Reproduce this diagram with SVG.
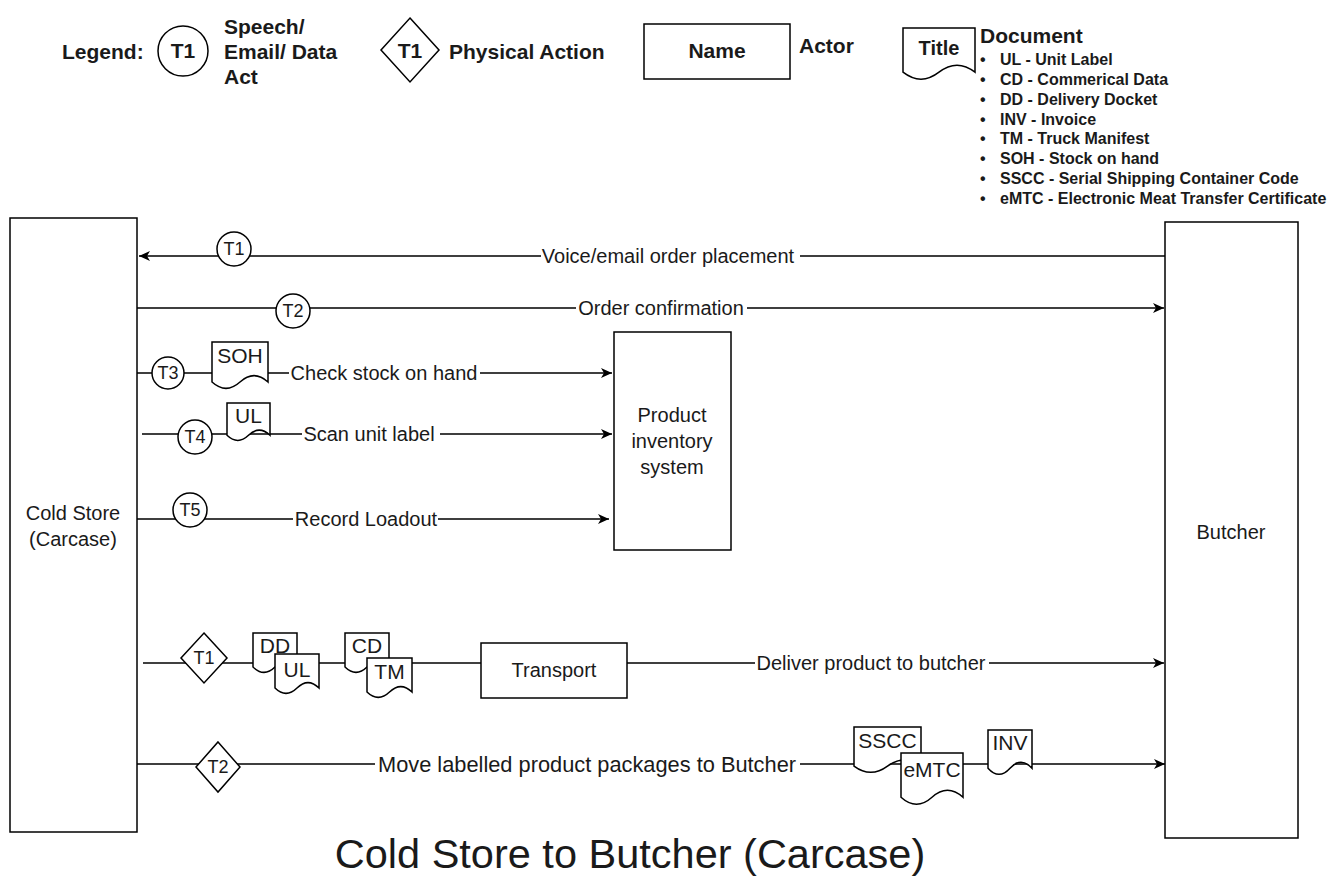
<svg xmlns="http://www.w3.org/2000/svg" width="1334" height="876" viewBox="0 0 1334 876">
<style>
.ln{stroke:#000;stroke-width:1.4;fill:none}
.bx{fill:#fff;stroke:#000;stroke-width:1.5}
.t{font-family:"Liberation Sans",Arial,sans-serif;fill:#1a1a1a}
.lg{font-weight:bold;font-size:21px}
.bl{font-weight:bold;font-size:16px}
.lab{font-size:20px}
.dl{font-size:21px;text-anchor:middle}
.tc{font-size:18px;text-anchor:middle}
.mid{text-anchor:middle}
</style>
<defs>
<marker id="arr" markerUnits="userSpaceOnUse" markerWidth="12" markerHeight="10" refX="11" refY="5" orient="auto">
<path d="M0,0 L11,5 L0,10 L3,5 Z" fill="#000"/>
</marker>
</defs>
<rect width="1334" height="876" fill="#fff"/>

<g id="legend">
<text class="t lg" x="62" y="59">Legend:</text>
<circle class="bx" cx="183" cy="51" r="25"/>
<text class="t lg mid" x="183" y="58">T1</text>
<text class="t lg" x="224" y="34">Speech/</text>
<text class="t lg" x="224" y="59">Email/ Data</text>
<text class="t lg" x="224" y="84">Act</text>
<polygon class="bx" points="410,18 439,50 410,82 381,50"/>
<text class="t lg mid" x="410" y="58">T1</text>
<text class="t lg" x="449" y="59">Physical Action</text>
<rect class="bx" x="644" y="24" width="146" height="55"/>
<text class="t lg mid" x="717" y="58">Name</text>
<text class="t lg" x="799" y="53">Actor</text>
<path class="bx" d="M903,28 H975 V72.2 Q957,58.2 939,72.2 Q921,86.2 903,72.2 Z"/>
<text class="t lg mid" x="939" y="55" style="font-size:20px">Title</text>
<text class="t lg" x="980" y="43">Document</text>
<g class="t bl">
<text x="980" y="65">•</text><text x="1000" y="65">UL - Unit Label</text>
<text x="980" y="85">•</text><text x="1000" y="85">CD - Commerical Data</text>
<text x="980" y="105">•</text><text x="1000" y="105">DD - Delivery Docket</text>
<text x="980" y="125">•</text><text x="1000" y="125">INV - Invoice</text>
<text x="980" y="144">•</text><text x="1000" y="144">TM - Truck Manifest</text>
<text x="980" y="164">•</text><text x="1000" y="164">SOH - Stock on hand</text>
<text x="980" y="184">•</text><text x="1000" y="184">SSCC - Serial Shipping Container Code</text>
<text x="980" y="204">•</text><text x="1000" y="204">eMTC - Electronic Meat Transfer Certificate</text>
</g>
</g>

<g id="connectors">
<path class="ln" d="M1165,256 H800 M541,256 H139" marker-end="url(#arr)"/>
<path class="ln" d="M137,308 H576 M747,308 H1164" marker-end="url(#arr)"/>
<path class="ln" d="M137,373 H289 M480,373 H612" marker-end="url(#arr)"/>
<path class="ln" d="M142,434 H302 M440,434 H612" marker-end="url(#arr)"/>
<path class="ln" d="M137,519 H293 M438,519 H609" marker-end="url(#arr)"/>
<path class="ln" d="M143,663 H481"/>
<path class="ln" d="M627,663 H755 M989,663 H1164" marker-end="url(#arr)"/>
<path class="ln" d="M137,764 H375 M800,764 H1165" marker-end="url(#arr)"/>
</g>

<g id="labels" class="t lab">
<text class="mid" x="668" y="263">Voice/email order placement</text>
<text class="mid" x="661" y="315">Order confirmation</text>
<text class="mid" x="384" y="380">Check stock on hand</text>
<text class="mid" x="369" y="441">Scan unit label</text>
<text class="mid" x="366" y="526">Record Loadout</text>
<text class="mid" x="871" y="670">Deliver product to butcher</text>
<text class="mid" x="587" y="772" style="font-size:21.8px">Move labelled product packages to Butcher</text>
</g>

<g id="cold-store">
<rect class="bx" x="10" y="218" width="127" height="614"/>
<text class="t lab mid" x="73" y="520">Cold Store</text>
<text class="t lab mid" x="73" y="546">(Carcase)</text>
</g>

<g id="butcher">
<rect class="bx" x="1165" y="222" width="133" height="616"/>
<text class="t lab mid" x="1231" y="539">Butcher</text>
</g>

<g id="product-inventory-system">
<rect class="bx" x="614" y="332" width="117" height="218"/>
<text class="t lab mid" x="672" y="422">Product</text>
<text class="t lab mid" x="672" y="448">inventory</text>
<text class="t lab mid" x="672" y="474">system</text>
</g>

<g id="transport">
<rect class="bx" x="481" y="643" width="146" height="55"/>
<text class="t lab mid" x="554" y="677">Transport</text>
</g>

<g id="t1-speech">
<circle class="bx" cx="234" cy="249" r="17"/>
<text class="t tc" x="234" y="255">T1</text>
</g>
<g id="t2-speech">
<circle class="bx" cx="293" cy="311" r="17"/>
<text class="t tc" x="293" y="317">T2</text>
</g>
<g id="t3-speech">
<circle class="bx" cx="168" cy="373" r="16"/>
<text class="t tc" x="168" y="379">T3</text>
</g>
<g id="doc-soh">
<path class="bx" d="M212,342 H268 V382 Q254,369.3 240,382 Q226,394.7 212,382 Z"/>
<text class="t dl" x="240" y="363">SOH</text>
</g>
<g id="t4-speech">
<circle class="bx" cx="195" cy="437" r="17"/>
<text class="t tc" x="195" y="443">T4</text>
</g>
<g id="doc-ul">
<path class="bx" d="M227,403 H270 V435.3 Q259.2,425 248.5,435.3 Q237.8,445.6 227,435.3 Z"/>
<text class="t dl" x="248.5" y="423">UL</text>
</g>
<g id="t5-speech">
<circle class="bx" cx="190" cy="510" r="17"/>
<text class="t tc" x="190" y="516">T5</text>
</g>

<g id="t1-physical">
<polygon class="bx" points="204,633 227,658 204,683 181,658"/>
<text class="t tc" x="204" y="664">T1</text>
</g>
<g id="doc-dd">
<path class="bx" d="M253,633 H297 V667 Q286,656.2 275,667 Q264,677.8 253,667 Z"/>
<text class="t dl" x="275" y="653">DD</text>
</g>
<g id="doc-ul-2">
<path class="bx" d="M275,654 H319 V688 Q308,677.2 297,688 Q286,698.8 275,688 Z"/>
<text class="t dl" x="297" y="677">UL</text>
</g>
<g id="doc-cd">
<path class="bx" d="M345,633 H389 V667 Q378,656.2 367,667 Q356,677.8 345,667 Z"/>
<text class="t dl" x="367" y="653">CD</text>
</g>
<g id="doc-tm">
<path class="bx" d="M367,658 H412 V692 Q400.8,681.2 389.5,692 Q378.2,702.8 367,692 Z"/>
<text class="t dl" x="389.5" y="679">TM</text>
</g>

<g id="t2-physical">
<polygon class="bx" points="218,742 240,767 218,792 196,767"/>
<text class="t tc" x="218" y="773">T2</text>
</g>
<g id="doc-sscc">
<path class="bx" d="M854,727 H921 V766.1 Q904.2,753.7 887.5,766.1 Q870.8,778.5 854,766.1 Z"/>
<text class="t dl" x="887.5" y="748">SSCC</text>
</g>
<g id="doc-emtc">
<path class="bx" d="M901,753 H963 V797.2 Q947.5,783.2 932,797.2 Q916.5,811.2 901,797.2 Z"/>
<text class="t dl" x="932" y="777">eMTC</text>
</g>
<g id="doc-inv">
<path class="bx" d="M988,730 H1032 V768.2 Q1021,756.1 1010,768.2 Q999,780.4 988,768.2 Z"/>
<text class="t dl" x="1010" y="750">INV</text>
</g>

<text id="title" class="t mid" x="630" y="868" style="font-size:41.5px">Cold Store to Butcher (Carcase)</text>
</svg>
